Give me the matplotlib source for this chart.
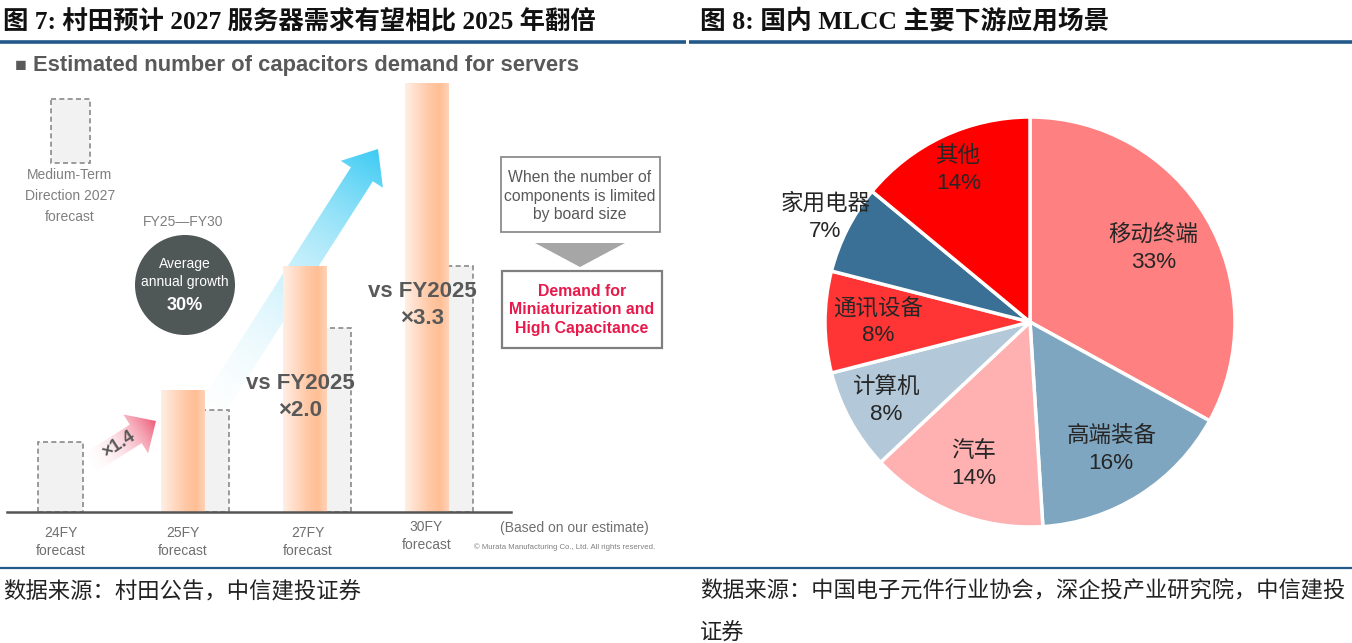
import numpy as np
import matplotlib
matplotlib.use("Agg")
import matplotlib.pyplot as plt
from matplotlib.patches import Rectangle, Circle, Polygon, FancyArrow
from matplotlib.colors import LinearSegmentedColormap, to_rgb

W, H = 1352, 643

# ---- left chart: estimated capacitor demand (25FY = 100) ----
years = ["24FY", "25FY", "27FY", "30FY"]
actual = np.array([0, 100, 202, 352])        # orange bars
midterm = np.array([57, 84, 151, 202])       # dashed Medium-Term boxes
multiples = ["", "", "×2.0", "×3.3"]

# ---- right chart: MLCC downstream shares ----
pie_labels = ["移动终端", "高端装备", "汽车", "计算机", "通讯设备", "家用电器", "其他"]
pie_share = [33, 16, 14, 8, 8, 7, 14]
pie_colors = ["#FF8080", "#7FA6C0", "#FFB1B1", "#B3C8D8", "#FF3535", "#3A6F96", "#FF0000"]

CJK = "Noto Sans CJK SC"
SANS = ["Liberation Sans", CJK]
SERIF = ["Liberation Serif", CJK]
RULE = "#22598A"

fig = plt.figure(figsize=(W / 100, H / 100), dpi=100)
fig.patch.set_facecolor("white")

# background layer in image pixels (y down)
bg = fig.add_axes([0, 0, 1, 1], zorder=0)
bg.set_xlim(0, W)
bg.set_ylim(H, 0)
bg.axis("off")
P = bg.transData


def txt(x, y, s, **kw):
    kw.setdefault("ha", "center")
    kw.setdefault("va", "center")
    kw.setdefault("family", SANS)
    return fig.text(x, y, s, transform=P, zorder=5, **kw)


# header / footer rules
bg.plot([0, 686], [42, 42], color=RULE, lw=2.6, solid_capstyle="butt")
bg.plot([689, W], [42, 42], color=RULE, lw=2.6, solid_capstyle="butt")
bg.plot([0, W], [567.5, 567.5], color=RULE, lw=1.6, solid_capstyle="butt")

txt(3, 21, "图 7: 村田预计 2027 服务器需求有望相比 2025 年翻倍", ha="left",
    family=SERIF, weight="bold", fontsize=18.3, color="#111111")
txt(700, 21, "图 8: 国内 MLCC 主要下游应用场景", ha="left",
    family=SERIF, weight="bold", fontsize=18.5, color="#111111")
txt(3, 591, "数据来源：村田公告，中信建投证券", ha="left", family=[CJK],
    style="italic", fontsize=16.1, color="#222222")
txt(700, 591, "数据来源：中国电子元件行业协会，深企投产业研究院，中信建投", ha="left",
    family=[CJK], style="italic", fontsize=16, color="#222222")
txt(700, 633, "证券", ha="left", family=[CJK], style="italic", fontsize=16,
    color="#222222")

# ---- left panel decorations ----
GREY = "#595959"
txt(21, 66, "■", fontsize=14, color=GREY)
txt(33, 66, "Estimated number of capacitors demand for servers", ha="left",
    weight="bold", fontsize=15.8, color=GREY)

# legend box for Medium-Term
bg.add_patch(Rectangle((51, 99), 39, 64, facecolor="#F2F2F2", edgecolor="#8A8A8A",
                       lw=1.2, ls=(0, (3, 2))))
txt(70, 196, "Medium-Term\nDirection 2027\nforecast", fontsize=10, color="#7F7F7F",
    linespacing=1.6)
txt(183, 222, "FY25—FY30", fontsize=10, color="#7F7F7F")
bg.add_patch(Circle((185, 285), 50, facecolor="#505757", edgecolor="none"))
txt(185, 273, "Average\nannual growth", fontsize=10, color="white", linespacing=1.45)
txt(185, 305, "30%", fontsize=13, weight="bold", color="white")


def gradient_arrow(x0, y0, x1, y1, width, hw, hl, c_lo, c_hi, a_lo, a_hi):
    arr = FancyArrow(x0, y0, x1 - x0, y1 - y0, width=width, head_width=hw,
                     head_length=hl, length_includes_head=True,
                     facecolor="none", edgecolor="none")
    bg.add_patch(arr)
    pad = hw
    xs = np.linspace(min(x0, x1) - pad, max(x0, x1) + pad, 200)
    ys = np.linspace(min(y0, y1) - pad, max(y0, y1) + pad, 200)
    gx, gy = np.meshgrid(xs, ys)
    L = np.hypot(x1 - x0, y1 - y0)
    t = np.clip(((gx - x0) * (x1 - x0) + (gy - y0) * (y1 - y0)) / L ** 2, 0, 1)
    lo, hi = np.array(to_rgb(c_lo)), np.array(to_rgb(c_hi))
    img = np.zeros(gx.shape + (4,))
    img[..., :3] = lo + (hi - lo) * t[..., None] ** 1.5
    img[..., 3] = a_lo + (a_hi - a_lo) * t ** 1.1
    im = bg.imshow(img, extent=[xs[0], xs[-1], ys[-1], ys[0]], origin="upper",
                   aspect="auto", interpolation="bilinear")
    im.set_clip_path(arr)


gradient_arrow(205, 420, 378, 149, 26, 50, 30, "#D0F2FC", "#3CCBF4", 0.0, 1.0)
gradient_arrow(90, 463, 156, 421, 22, 46, 24, "#FBD4DC", "#EE5B78", 0.0, 1.0)
bg.set_xlim(0, W)
bg.set_ylim(H, 0)
txt(119, 445, "×1.4", fontsize=13, weight="bold", color=GREY, rotation=33)

# right-hand explanatory boxes
bg.add_patch(Rectangle((501, 157), 159, 75, facecolor="white", edgecolor="#8C8C8C", lw=1.3))
txt(580, 196, "When the number of\ncomponents is limited\nby board size",
    fontsize=11.3, color=GREY, linespacing=1.28)
bg.add_patch(Polygon([(535, 243), (625, 243), (580, 267)], closed=True,
                     facecolor="#A6A6A6", edgecolor="none"))
bg.add_patch(Rectangle((502, 271), 160, 77, facecolor="white", edgecolor="#7F7F7F", lw=1.6))
txt(582, 310, "Demand for\nMiniaturization and\nHigh Capacitance", fontsize=11.4,
    weight="bold", color="#E8194B", linespacing=1.28)

# ---- bar axes ----
base_y, top_y, x_l, x_r = 512, 60, 7, 511
ax = fig.add_axes([x_l / W, (H - base_y) / H, (x_r - x_l) / W, (base_y - top_y) / H],
                  zorder=1)
ax.patch.set_visible(False)
for s in ax.spines.values():
    s.set_visible(False)
ax.set_xticks([])
ax.set_yticks([])
pos = np.arange(len(years))
px_per_unit = 122.0
ylim = (0, (base_y - top_y) / 1.22)
xlim = ((x_l - 60.5) / px_per_unit, (x_r - 60.5) / px_per_unit)

bw = 0.36
has_bar = actual > 0
dash_left = np.where(has_bar, pos + bw / 2, pos - 0.185)
dash_w = np.where(has_bar, 0.385 - bw / 2, 0.37)
ax.bar(dash_left, midterm, width=dash_w, align="edge", facecolor="#F2F2F2",
       edgecolor="#8A8A8A", lw=1.2, ls=(0, (3, 2)), zorder=1)

orange = LinearSegmentedColormap.from_list(
    "org", [(0, "#FFEEE4"), (0.55, "#FFC9A6"), (0.8, "#FFBE95"), (1, "#FFD2B6")])
grad = orange(np.linspace(0, 1, 64))[None, :, :]
for p, v in zip(pos[has_bar], actual[has_bar]):
    b = ax.bar(p, v, width=bw, color="#FFC9A6", lw=0, zorder=2)[0]
    im = ax.imshow(grad, extent=[p - bw / 2, p + bw / 2, 0, v], aspect="auto",
                   zorder=2.1, interpolation="bilinear")
    im.set_clip_path(b)
ax.set_xlim(*xlim)
ax.set_ylim(*ylim)
ax.axhline(0, color="#555555", lw=1.8, zorder=3, clip_on=False)

# multiples next to the bars (pixel anchors)
mult_xy = {2: (300, 397), 3: (422, 305)}
for p, m in zip(pos, multiples):
    if m:
        txt(*mult_xy[p], "vs FY2025\n" + m, fontsize=16, weight="bold", color=GREY,
            linespacing=1.4)

# category labels
for p, y in zip(pos, years):
    dy = -6 if p == 3 else 0
    xpix = 60.5 + p * px_per_unit + (3 if p == 2 else 0)
    txt(xpix, 542 + dy, y + "\nforecast", fontsize=10, color="#6F6F6F", linespacing=1.4)
txt(574, 528, "(Based on our estimate)", fontsize=10, color="#6F6F6F")
txt(565, 547, "© Murata Manufacturing Co., Ltd. All rights reserved.", fontsize=5.6,
    color="#808080")

# ---- pie ----
cx, cy, R = 1030, 322, 205
half = 210
axp = fig.add_axes([(cx - half) / W, (H - cy - half) / H, 2 * half / W, 2 * half / H],
                   zorder=1)
lim = half / R
wedges, _ = axp.pie(pie_share, colors=pie_colors, startangle=90, counterclock=False,
                    wedgeprops=dict(edgecolor="white", linewidth=2.5))
axp.set_xlim(-lim, lim)
axp.set_ylim(-lim, lim)
axp.set_aspect("equal")
axp.axis("off")
label_r = [0.70, 0.74, 0.75, 0.80, 0.74, 1.12, 0.82]
for w, lab, v, r in zip(wedges, pie_labels, pie_share, label_r):
    ang = np.deg2rad((w.theta1 + w.theta2) / 2)
    axp.text(r * np.cos(ang), r * np.sin(ang), f"{lab}\n{v}%", ha="center", va="center",
             fontsize=16.2, color="#262626", family=SANS, linespacing=1.4, zorder=5)

fig.savefig("out.png", dpi=100, facecolor="white")
